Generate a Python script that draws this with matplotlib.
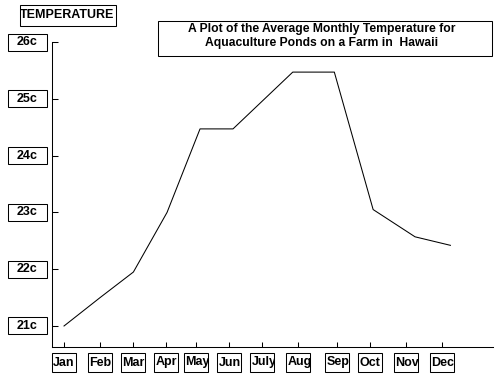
import matplotlib
matplotlib.use("Agg")
import matplotlib.pyplot as plt
from matplotlib.patches import Rectangle
from matplotlib.transforms import IdentityTransform

# data (x in month units, Jan = 1)
months = ["Jan", "Feb", "Mar", "Apr", "May", "Jun", "July", "Aug", "Sep", "Oct", "Nov", "Dec"]
tick_pos = [1.0, 2.05, 3.02, 3.98, 4.85, 5.81, 6.77, 7.82, 8.95, 9.91, 10.96, 12.01]
point_pos = [1.0, 2.05, 3.02, 4.0, 4.96, 5.92, 6.79, 7.66, 8.87, 10.0, 11.22, 12.25]
temps = [21.0, 21.5, 21.95, 23.0, 24.47, 24.47, 24.97, 25.47, 25.47, 23.05, 22.57, 22.42]
y_ticks = [21, 22, 23, 24, 25, 26]
y_labels = ["21c", "22c", "23c", "24c", "25c", "26c"]
title = "A Plot of the Average Monthly Temperature for\nAquaculture Ponds on a Farm in  Hawaii"

W, H = 500, 377
FONT = "Liberation Sans"
FS = 9

fig = plt.figure(figsize=(W / 100, H / 100), dpi=100)
fig.patch.set_facecolor("white")

def fx(x):
    return x / W

def fy(y):
    return 1 - y / H

ax = fig.add_axes([fx(52), fy(347), (493 - 52) / W, (347 - 42) / H])
ax.plot(point_pos, temps, color="black", lw=0.75)
ax.set_xlim(0.65, 13.49)
ax.set_ylim(20.63, 26.0)
ax.set_xticks(tick_pos)
ax.set_yticks(y_ticks)
ax.tick_params(axis="both", direction="in", color="black", width=0.75,
               labelbottom=False, labelleft=False)
ax.tick_params(axis="x", length=3.5)
ax.tick_params(axis="y", length=4)
for s in ["top", "right"]:
    ax.spines[s].set_visible(False)
for s in ["left", "bottom"]:
    ax.spines[s].set_linewidth(0.75)
ax.set_facecolor("white")


def boxed(x0, y0, w, h, txt, ha="center", pad=1.5):
    # x0, y0 is the top-left corner in image pixels (y down)
    rect = Rectangle((x0, H - y0 - h), w, h, transform=IdentityTransform(),
                     fill=False, edgecolor="black", lw=0.75)
    fig.add_artist(rect)
    if ha == "center":
        tx = x0 + w / 2
    else:
        tx = x0 + pad
    t = fig.text(tx, H - y0 - h / 2, txt, transform=IdentityTransform(),
                 ha=ha, va="center", fontsize=FS, fontweight="bold",
                 family=FONT, clip_on=True)
    t.set_clip_path(rect)
    return t


# y tick label boxes
for v, lab in zip(y_ticks, y_labels):
    py = H - ax.transData.transform((0, v))[1]
    boxed(7.5, py - 8.5, 39, 17, lab)

# month label boxes
for m, lab in zip(tick_pos, months):
    px = ax.transData.transform((m, 0))[0]
    boxed(px - 12, 353, 24, 19, lab, ha="left", pad=1.2)

# axis label box and title box
boxed(19.5, 5, 96, 21, "TEMPERATURE")
rect = Rectangle((157.5, H - 56), 334, 35.5, transform=IdentityTransform(),
                 fill=False, edgecolor="black", lw=0.75)
fig.add_artist(rect)
fig.text(fx(322), fy(36), title, ha="center", va="center", fontsize=8.7,
         fontweight="bold", family=FONT, linespacing=1.3)

fig.savefig("out.png", dpi=100, facecolor="white")
